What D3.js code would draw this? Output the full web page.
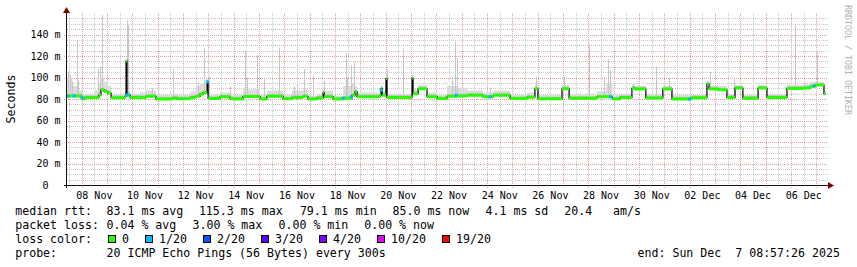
<!DOCTYPE html>
<html><head><meta charset="utf-8">
<script src="https://cdn.jsdelivr.net/npm/d3@7"></script>
<style>
body{margin:0;background:#fff}
svg{display:block}
text{font-family:"DejaVu Sans Mono",monospace;fill:#000;white-space:pre}
</style>
</head><body>
<svg id="c" width="857" height="267"></svg>
<script>
// ---- DATA (time = day of November 2025 with fraction, UTC; 31 = 1 Dec; values in ms) ----
const segT = [7.42,7.62,7.82,8.01,8.13,8.50,8.68,8.76,8.88,9.04,9.16,9.71,9.75,9.79,9.91,10.30,10.54,10.93,11.60,11.76,12.30,12.51,12.67,12.79,12.95,12.99,13.46,13.85,13.97,14.37,15.04,15.31,15.95,16.30,16.74,16.93,17.29,17.53,17.57,17.92,18.32,18.67,18.79,18.87,19.78,19.82,19.86,20.01,20.05,21.04,21.08,21.28,21.63,22.03,22.42,22.86,23.21,23.84,24.24,24.91,25.58,25.89,26.01,26.96,27.24,28.34,28.70,28.95,29.25,29.72,29.84,30.27,30.94,31.30,32.05,32.68,32.76,33.12,33.47,33.79,34.10,34.70,35.05,35.84,36.48,36.75,36.95,37.30];
const segEnd = 37.36;
const medianMs = [82.8,82.8,82.8,80.0,81.5,81.5,83.7,88.5,87.0,85.5,81.2,82.5,115.3,83.7,81.5,81.5,82.5,80.0,81.0,80.3,81.5,82.5,84.5,86.0,96.0,80.5,82.0,80.3,80.0,82.3,80.0,82.5,80.2,81.5,82.5,80.0,81.0,86.0,82.2,80.0,80.7,83.5,86.8,82.2,83.5,90.0,83.5,99.0,81.5,99.5,85.0,89.5,82.2,80.4,82.5,82.8,83.5,82.0,83.5,80.4,81.7,89.5,80.2,89.5,80.8,82.0,82.0,80.0,81.5,90.0,89.3,81.0,89.3,80.0,81.2,94.0,89.3,88.5,81.5,90.2,80.8,90.2,81.5,89.8,90.2,91.6,93.0,85.0];
const smokeTopMs = [100,92,88,84,85,88,95,100,96,92,85,86,118,88,85,86,88,84,85,84,87,92,94,95,99,84,86,84,84,89,84,88,84,88,89,83,85,90,88,83,92,95,92,86,88,93,88,101,85,102,89,93,86,84,92,90,88,86,88,84,86,93,84,93,85,87,95,84,85,94,92,85,92,84,84,97,92,92,85,93,84,93,85,93,94,96,96,88];
const spikeT = [7.46,7.54,7.62,7.81,7.85,8.64,8.72,8.80,9.78,9.81,10.78,11.60,12.59,12.83,13.01,13.85,14.45,14.53,14.92,15.20,15.79,16.38,16.50,16.78,17.13,17.55,18.42,18.47,18.62,18.75,19.78,20.05,20.68,21.04,22.62,22.74,22.82,24.12,25.93,27.03,28.02,28.61,28.77,28.85,30.66,31.17,32.79,33.76,36.16,37.01];
const spikeMs = [105,103,96,135,97,108,110,158,153,149,90,108,95,127,101,92,124,100,121,100,128,92,94,108,101,97,122.5,100,111.6,114.7,90,107.5,127,100,100,133,118,90,101,101,131.5,100,117,107,110,100,105,100,148,124];
const lossT = [7.46,7.70,8.01,9.81,12.96,18.32,18.64,19.82,22.78,24.12,28.88,32.00,36.91];
const lossMs = [82.8,82.8,81,83.7,96,80.7,82,88,83.5,82,82,80,92.5];
const lossLevel = [1,1,1,1,1,1,1,1,1,1,1,1,1];

const yTickValues = [0,20,40,60,80,100,120,140];
const yTickLabels = ["0  ","20 m","40 m","60 m","80 m","100 m","120 m","140 m"];
const xTickLabels = ["08 Nov","10 Nov","12 Nov","14 Nov","16 Nov","18 Nov","20 Nov","22 Nov","24 Nov","26 Nov","28 Nov","30 Nov","02 Dec","04 Dec","06 Dec"];

const lossLevels = [0,1,2,3,4,10,19];
const lossLabels = ["0","1/20","2/20","3/20","4/20","10/20","19/20"];
const lossColors = ["#26ff00","#00b8ff","#0059ff","#5e00ff","#7e00ff","#dd00ff","#ff0000"];

const rttLine = ["median rtt:","83.1 ms avg","115.3 ms max","79.1 ms min","85.0 ms now","4.1 ms sd","20.4   am/s"];
const lossLine = ["packet loss:","0.04 % avg","3.00 % max","0.00 % min","0.00 % now"];
const probeLine = ["probe:","20 ICMP Echo Pings (56 Bytes) every 300s","end: Sun Dec  7 08:57:26 2025"];

// ---- LAYOUT ----
const rttX = [15.2,106.5,198.9,299.9,392.5,485.5,564.2];
const lossX = [15.2,106.5,192.5,278.5,364.2];
const probeX = [15.2,106.5,637.5];

const T0 = Date.UTC(2025,9,31);   // day 0 of November = 31 Oct
const toDate = d => new Date(T0 + d*864e5);
const svg = d3.select("#c");
const x = d3.scaleUtc().domain([toDate(7.42), toDate(37.42)]).range([67,827]);
const y = d3.scaleLinear().domain([0,160]).range([185,13]);
const X = d => x(toDate(d));

// grid
const g = svg.append("g");
const [d0,d1] = x.domain();
const minorX = d3.utcHour.every(12).range(d0,d1).filter(d=>d.getUTCHours()===12);
const majorX = d3.utcDay.range(d0,d1);
minorX.forEach(d=>{ const px=Math.round(x(d))+0.5;
  g.append("line").attr("x1",px).attr("x2",px).attr("y1",13).attr("y2",185).attr("stroke","#c8c8c8").attr("stroke-dasharray","1,1");});
const yMinor = d3.range(5,160,5).filter(v=>v%20!==0);
yMinor.forEach(v=>{ const py=Math.round(y(v))+0.5;
  g.append("line").attr("x1",67).attr("x2",828).attr("y1",py).attr("y2",py).attr("stroke","#c8c8c8").attr("stroke-dasharray","1,1");});
majorX.forEach(d=>{ const px=Math.round(x(d))+0.5;
  g.append("line").attr("x1",px).attr("x2",px).attr("y1",13).attr("y2",188).attr("stroke","#e4a0a0").attr("stroke-dasharray","1,1");});
yTickValues.filter(v=>v>0).forEach(v=>{ const py=Math.round(y(v))+0.5;
  g.append("line").attr("x1",64).attr("x2",828).attr("y1",py).attr("y2",py).attr("stroke","#e4a0a0").attr("stroke-dasharray","1,1");});

// data points
const pts = segT.map((t,i)=>({t, m:medianMs[i], h:smokeTopMs[i]}));
pts.push({t:segEnd, m:medianMs[medianMs.length-1], h:smokeTopMs[smokeTopMs.length-1]});

// smoke
svg.append("path").datum(pts)
  .attr("d", d3.area().x(p=>X(p.t)).y0(p=>y(p.m)).y1(p=>y(p.h)).curve(d3.curveStepAfter))
  .attr("fill","#dcdcdc");
svg.append("path").datum(pts)
  .attr("d", d3.area().x(p=>X(p.t)).y0(p=>y(p.m-1)).y1(p=>y(Math.min(p.h,p.m+2))).curve(d3.curveStepAfter))
  .attr("fill","#c4c4c4");

// spikes
const medAt = t => { const i = Math.max(0, d3.bisectRight(segT,t)-1); return medianMs[i]; };
spikeT.forEach((t,i)=>{ const px=Math.round(X(t))+0.5;
  svg.append("line").attr("x1",px).attr("x2",px).attr("y1",y(medAt(t))).attr("y2",y(spikeMs[i]))
    .attr("stroke","#c6c6c6").attr("stroke-width",1);});

// black median connector
svg.append("path").datum(pts)
  .attr("d", d3.line().x(p=>X(p.t)).y(p=>y(p.m)).curve(d3.curveStepAfter))
  .attr("fill","none").attr("stroke","#000").attr("stroke-width",1.2);

// green median (loss 0)
let gp = "";
segT.forEach((t,i)=>{ const t1 = i<segT.length-1 ? segT[i+1] : segEnd;
  gp += `M${X(t)},${y(medianMs[i])}H${X(t1)}`; });
svg.append("path").attr("d",gp).attr("fill","none").attr("stroke",lossColors[0]).attr("stroke-width",3);

// loss marks
lossT.forEach((t,i)=>{
  svg.append("rect").attr("x",X(t)-1.5).attr("y",y(lossMs[i])-1.5).attr("width",3).attr("height",3)
    .attr("fill",lossColors[lossLevels.indexOf(lossLevel[i])]);});

// axes
svg.append("line").attr("x1",64).attr("x2",829).attr("y1",185.5).attr("y2",185.5).attr("stroke","#111");
svg.append("line").attr("x1",66.5).attr("x2",66.5).attr("y1",188).attr("y2",12).attr("stroke","#111");
svg.append("path").attr("d","M828,182L834,185.5L828,189Z").attr("fill","#7f0000");
svg.append("path").attr("d","M63,13L66.5,7L70,13Z").attr("fill","#7f0000");

// y labels
yTickValues.forEach((v,i)=>{
  const lab = yTickLabels[i];
  svg.append("text").attr("x",60.6 - lab.length*6.02).attr("y",y(v)+3.6)
    .attr("font-size","10px").attr("xml:space","preserve").text(lab);});
// x labels (centred at noon of the labelled day)
const parseDay = d3.utcParse("%d %b %Y");
xTickLabels.forEach(l=>{
  const dt = d3.utcHour.offset(parseDay(l+" 2025"), 12);
  svg.append("text").attr("x",x(dt)).attr("y",198.5).attr("text-anchor","middle").attr("font-size","10px").text(l);});

// axis title & watermark
svg.append("text").attr("transform","translate(15,99) rotate(-90)").attr("text-anchor","middle")
  .attr("font-size","11.6px").text("Seconds");
svg.append("text").attr("transform","translate(844.5,5) rotate(90)").attr("font-size","8.3px")
  .style("fill","#b0b0b0").text("RRDTOOL / TOBI OETIKER");

// legend
const LF = "11.6px";
const addLine = (items, xs, yb) => items.forEach((s,i)=>
  svg.append("text").attr("x",xs[i]).attr("y",yb).attr("font-size",LF).attr("xml:space","preserve").text(s));
addLine(rttLine, rttX, 215);
addLine(lossLine, lossX, 229);
addLine(["loss color:"], [15.2], 243);
let bx = 108;
lossLabels.forEach((l,i)=>{
  svg.append("rect").attr("x",bx+0.5).attr("y",235.5).attr("width",7).attr("height",7)
    .attr("fill",lossColors[i]).attr("stroke","#000").attr("stroke-width",1);
  svg.append("text").attr("x",bx+14).attr("y",243).attr("font-size",LF).text(l);
  bx += 30 + 7*l.length;
});
addLine(probeLine, probeX, 257);
</script>
</body></html>
